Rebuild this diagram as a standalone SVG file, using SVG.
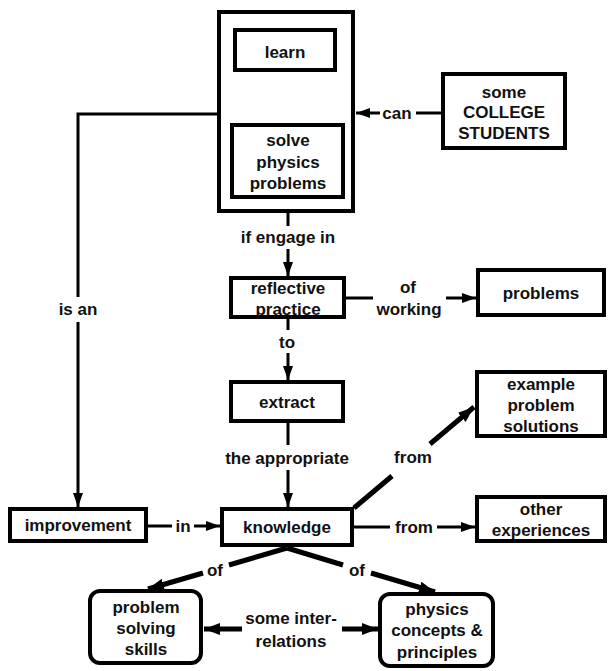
<svg xmlns="http://www.w3.org/2000/svg" width="608" height="671" viewBox="0 0 608 671">
<style>
.box{fill:#fff;stroke:#000;stroke-width:4}
.t{font-family:"Liberation Sans",Arial,sans-serif;font-weight:bold;font-size:17px;text-anchor:middle;fill:#111}
.c{fill:none;stroke:#000;stroke-width:3}
.ct{fill:none;stroke:#000;stroke-width:5}
.a{marker-end:url(#ah)}
.ab{marker-end:url(#ahb)}
</style>
<defs>
<marker id="ah" viewBox="0 0 14 10" refX="14" refY="5" markerWidth="14" markerHeight="10" markerUnits="userSpaceOnUse" orient="auto"><path d="M0,0 L14,5 L0,10 z" fill="#000"/></marker>
<marker id="ahb" viewBox="0 0 16 12" refX="16" refY="6" markerWidth="16" markerHeight="12" markerUnits="userSpaceOnUse" orient="auto"><path d="M0,0 L16,6 L0,12 z" fill="#000"/></marker>
</defs>
<rect width="608" height="671" fill="#fff"/>

<g id="connectors">
  <!-- learn -> solve -->
  <line class="c" x1="285" y1="72" x2="285" y2="79"/>
  <text class="t" x="285" y="98">how to</text>
  <line class="c a" x1="285" y1="103" x2="285" y2="123"/>
  <!-- students -> outer (can) -->
  <line class="c" x1="441" y1="113" x2="416" y2="113"/>
  <text class="t" x="397" y="119">can</text>
  <line class="c a" x1="380" y1="113" x2="356" y2="113"/>
  <!-- solve -> reflective -->
  <line class="c" x1="288" y1="199" x2="288" y2="226"/>
  <text class="t" x="288" y="243">if engage in</text>
  <line class="c a" x1="288" y1="249" x2="288" y2="276"/>
  <!-- outer -> improvement (is an) -->
  <polyline class="c" points="217,114 78,114 78,297"/>
  <text class="t" x="78" y="315">is an</text>
  <line class="c a" x1="78" y1="322" x2="78" y2="507"/>
  <!-- reflective -> problems -->
  <line class="c" x1="346" y1="298" x2="373" y2="298"/>
  <text class="t" x="408" y="293">of</text>
  <text class="t" x="409" y="315">working</text>
  <line class="c a" x1="446" y1="298" x2="476" y2="298"/>
  <!-- reflective -> extract -->
  <line class="c" x1="288" y1="319" x2="288" y2="330"/>
  <text class="t" x="287" y="348">to</text>
  <line class="c a" x1="288" y1="353" x2="288" y2="380"/>
  <!-- extract -> knowledge -->
  <line class="c" x1="288" y1="423" x2="288" y2="445"/>
  <text class="t" x="287" y="464">the appropriate</text>
  <line class="c a" x1="288" y1="470" x2="288" y2="507"/>
  <!-- improvement -> knowledge -->
  <line class="c" x1="148" y1="526" x2="172" y2="526"/>
  <text class="t" x="183" y="532">in</text>
  <line class="c a" x1="194" y1="526" x2="220" y2="526"/>
  <!-- knowledge -> example -->
  <line class="ct" x1="354" y1="508" x2="392" y2="476"/>
  <text class="t" x="413" y="463">from</text>
  <line class="ct ab" x1="430" y1="444" x2="474" y2="407"/>
  <!-- knowledge -> other -->
  <line class="c" x1="354" y1="527" x2="390" y2="527"/>
  <text class="t" x="414" y="533">from</text>
  <line class="c a" x1="437" y1="527" x2="475" y2="527"/>
  <!-- knowledge -> problem solving -->
  <line class="ct" x1="287" y1="548" x2="229" y2="565"/>
  <text class="t" x="215" y="576">of</text>
  <line class="ct ab" x1="203" y1="573" x2="148" y2="589"/>
  <!-- knowledge -> physics -->
  <line class="ct" x1="287" y1="548" x2="343" y2="565"/>
  <text class="t" x="357" y="576">of</text>
  <line class="ct ab" x1="371" y1="573" x2="435" y2="592"/>
  <!-- interrelations -->
  <text class="t" x="291" y="624">some inter-</text>
  <text class="t" x="291" y="647">relations</text>
  <line class="ct ab" x1="242" y1="629" x2="204" y2="629"/>
  <line class="ct ab" x1="342" y1="629" x2="378" y2="629"/>
</g>

<g id="n-outer"><rect class="box" x="219" y="12" width="134" height="199"/></g>
<g id="n-learn"><rect class="box" x="235" y="30" width="100" height="40"/><text class="t" x="285" y="58">learn</text></g>
<g id="n-solve"><rect class="box" x="232" y="125" width="111" height="72"/><text class="t" x="288" y="146">solve</text><text class="t" x="288" y="168">physics</text><text class="t" x="288" y="189">problems</text></g>
<g id="n-students"><rect class="box" x="443" y="74" width="122" height="74"/><text class="t" x="504" y="98">some</text><text class="t" x="504" y="118">COLLEGE</text><text class="t" x="504" y="139">STUDENTS</text></g>
<g id="n-reflective"><rect class="box" x="231" y="278" width="113" height="39"/><text class="t" x="288" y="294">reflective</text><text class="t" x="288" y="315">practice</text></g>
<g id="n-problems"><rect class="box" x="478" y="270" width="126" height="45"/><text class="t" x="541" y="299">problems</text></g>
<g id="n-extract"><rect class="box" x="231" y="382" width="112" height="39"/><text class="t" x="287" y="408">extract</text></g>
<g id="n-example"><rect class="box" x="477" y="372" width="128" height="64"/><text class="t" x="541" y="390">example</text><text class="t" x="541" y="411">problem</text><text class="t" x="541" y="432">solutions</text></g>
<g id="n-knowledge"><rect class="box" x="222" y="509" width="130" height="36"/><text class="t" x="287" y="533">knowledge</text></g>
<g id="n-improvement"><rect class="box" x="10" y="509" width="136" height="32"/><text class="t" x="78" y="531">improvement</text></g>
<g id="n-other"><rect class="box" x="477" y="497" width="128" height="44"/><text class="t" x="541" y="515">other</text><text class="t" x="541" y="536">experiences</text></g>
<g id="n-skills"><rect class="box" x="90" y="591" width="111" height="72" rx="10"/><text class="t" x="146" y="613">problem</text><text class="t" x="146" y="634">solving</text><text class="t" x="146" y="655">skills</text></g>
<g id="n-concepts"><rect class="box" x="380" y="594" width="113" height="72" rx="10"/><text class="t" x="437" y="615">physics</text><text class="t" x="437" y="636">concepts &amp;</text><text class="t" x="437" y="658">principles</text></g>
</svg>
